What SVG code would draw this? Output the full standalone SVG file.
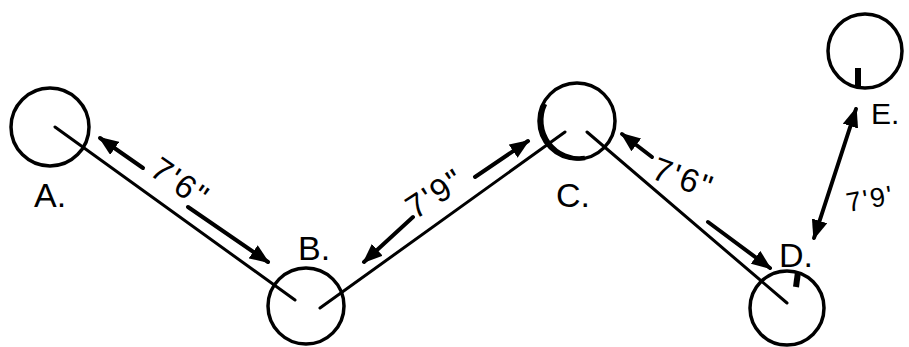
<svg xmlns="http://www.w3.org/2000/svg" width="909" height="347" viewBox="0 0 909 347">
<defs>
<style>
.node{fill:none;stroke:#000;stroke-width:3.5}
.tick{stroke:#000;stroke-width:6;stroke-linecap:butt}
.edge{stroke:#000;stroke-width:3;fill:none;stroke-linecap:round}
.dim{stroke:#000;stroke-width:4;fill:none;stroke-linecap:round}
.lbl{font-family:"Liberation Sans","DejaVu Sans",sans-serif;font-size:34px;fill:#000}
.len{font-family:"Liberation Sans","DejaVu Sans",sans-serif;font-size:33px;letter-spacing:2px;fill:#000}
</style>
<marker id="ah" viewBox="0 0 20 16" refX="18" refY="8" markerWidth="20" markerHeight="16" markerUnits="userSpaceOnUse" orient="auto-start-reverse">
<path d="M0,0 L20,8 L0,16 Z" fill="#000"/>
</marker>
</defs>
<g id="A">
<circle class="node" cx="50" cy="127" r="39"/>
<text class="lbl" x="34" y="207">A.</text>
</g>
<g id="B">
<circle class="node" cx="306" cy="306" r="38"/>
<text class="lbl" x="298" y="260">B.</text>
</g>
<g id="C">
<circle class="node" cx="577" cy="121" r="38"/>
<path d="M545,104 A38,38 0 0 0 585,158" fill="none" stroke="#000" stroke-width="4.5"/>
<text class="lbl" x="556" y="207">C.</text>
</g>
<g id="D">
<circle class="node" cx="787" cy="308" r="37"/>
<line class="tick" x1="798" y1="272" x2="796" y2="287"/>
<text class="lbl" x="779" y="267">D.</text>
</g>
<g id="E">
<circle class="node" cx="865" cy="51" r="37"/>
<line class="tick" x1="858" y1="68" x2="858" y2="87"/>
<text class="lbl" x="871" y="124" style="font-size:30px">E.</text>
</g>
<g id="connectors">
<line class="edge" x1="55" y1="127" x2="295" y2="300"/>
<line class="edge" x1="320" y1="308" x2="565" y2="132"/>
<line class="edge" x1="587" y1="132" x2="787" y2="303"/>
<line class="dim" x1="143" y1="168" x2="100" y2="138" marker-end="url(#ah)"/>
<line class="dim" x1="188" y1="207" x2="268" y2="262" marker-end="url(#ah)"/>
<line class="dim" x1="413" y1="217" x2="364" y2="262" marker-end="url(#ah)"/>
<line class="dim" x1="475" y1="177" x2="528" y2="141" marker-end="url(#ah)"/>
<line class="dim" x1="652" y1="157" x2="622" y2="134" marker-end="url(#ah)"/>
<line class="dim" x1="708" y1="222" x2="770" y2="268" marker-end="url(#ah)"/>
<line class="dim" x1="814" y1="238" x2="856" y2="109" marker-start="url(#ah)" marker-end="url(#ah)"/>
<text class="len" transform="translate(148,174) rotate(35)">7'6"</text>
<text class="len" transform="translate(415,220) rotate(-33)">7'9"</text>
<text class="len" transform="translate(650,178) rotate(20)">7'6"</text>
<text class="len" transform="translate(848,212) rotate(-10)" style="font-size:27px">7'9'</text>
</g>
</svg>
